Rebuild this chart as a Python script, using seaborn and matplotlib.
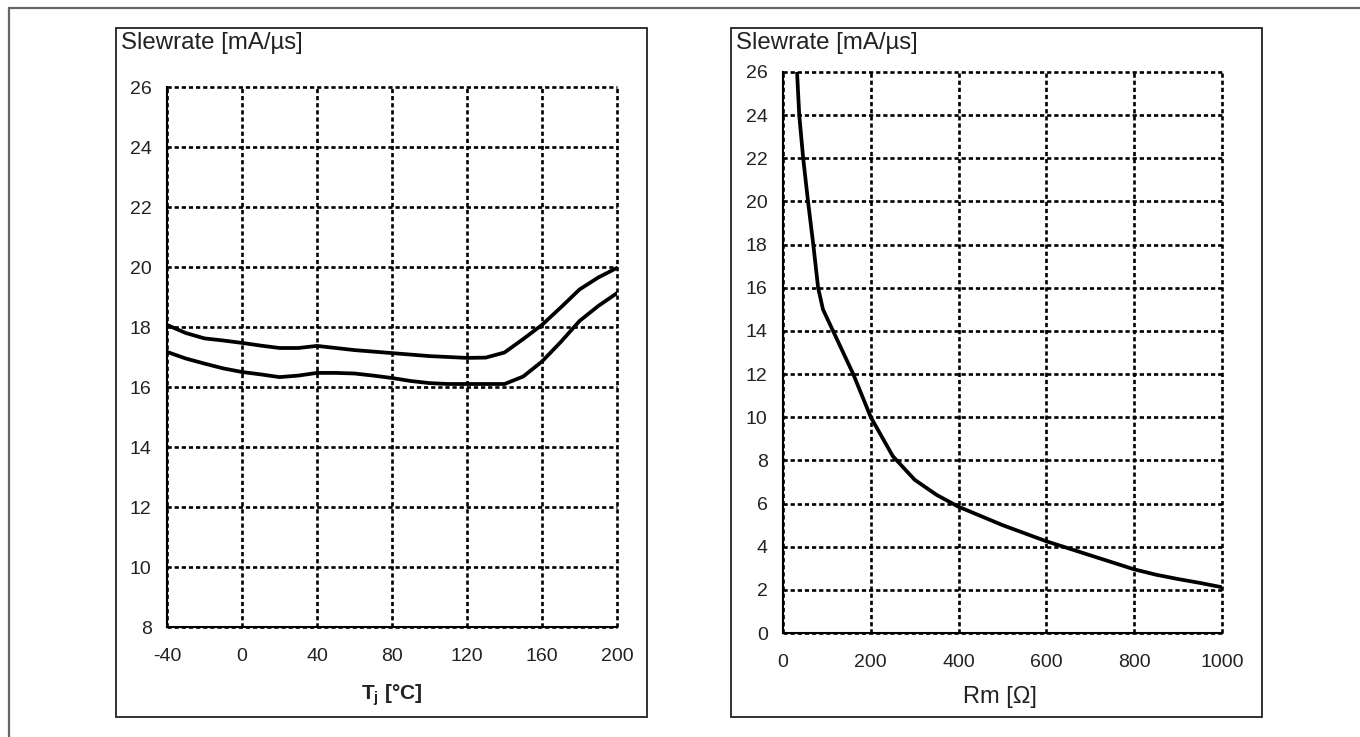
import matplotlib
matplotlib.use("Agg")
import matplotlib.pyplot as plt
import seaborn as sns
import pandas as pd
from matplotlib.lines import Line2D
from matplotlib.patches import Rectangle

# ---------------- data ----------------
tj = [-40, -30, -20, -10, 0, 10, 20, 30, 40, 50, 60, 70, 80, 90, 100, 110, 120, 130,
      140, 150, 160, 170, 180, 190, 200]
slew_upper = [18.07, 17.8, 17.62, 17.55, 17.47, 17.38, 17.3, 17.3, 17.37, 17.3, 17.23, 17.18,
              17.13, 17.08, 17.03, 17.0, 16.97, 16.98, 17.15, 17.6, 18.07, 18.65, 19.25, 19.65, 19.97]
slew_lower = [17.17, 16.95, 16.78, 16.62, 16.5, 16.42, 16.33, 16.38, 16.47, 16.47, 16.45, 16.38,
              16.3, 16.2, 16.13, 16.1, 16.1, 16.1, 16.1, 16.35, 16.85, 17.5, 18.2, 18.7, 19.13]

rm = [32, 37, 46, 57, 69, 80, 91, 114, 137, 160, 200, 250, 300, 350, 400, 500, 600,
      700, 800, 850, 900, 950, 1000]
slew_rm = [26, 24, 22, 20, 18, 16, 15, 14, 13, 12, 10, 8.2, 7.1, 6.4, 5.85, 5.0, 4.25,
           3.6, 2.95, 2.7, 2.5, 2.32, 2.12]

left_xticks = [-40, 0, 40, 80, 120, 160, 200]
left_yticks = [8, 10, 12, 14, 16, 18, 20, 22, 24, 26]
right_xticks = [0, 200, 400, 600, 800, 1000]
right_yticks = [0, 2, 4, 6, 8, 10, 12, 14, 16, 18, 20, 22, 24, 26]

y_title = "Slewrate [mA/µs]"
left_xlabel = r"T$_\mathregular{j}$ [°C]"
right_xlabel = "Rm [Ω]"

# ---------------- style ----------------
sns.set_theme(style="white")
plt.rcParams["font.family"] = ["Liberation Sans", "DejaVu Sans"]
plt.rcParams["mathtext.fontset"] = "custom"
plt.rcParams["mathtext.rm"] = "Liberation Sans"
plt.rcParams["mathtext.bf"] = "Liberation Sans:bold"
plt.rcParams["axes.unicode_minus"] = False

W, H = 1360, 737
fig = plt.figure(figsize=(W / 100, H / 100), dpi=100)
fig.patch.set_facecolor("white")


def fx(px):
    return px / W


def fy(py):
    return 1 - py / H


# outer frame (only left and top visible)
fig.add_artist(Line2D([fx(9), fx(9)], [fy(8), 0], color="#666666", lw=1.6,
                      transform=fig.transFigure))
fig.add_artist(Line2D([fx(9), 1], [fy(8), fy(8)], color="#666666", lw=1.6,
                      transform=fig.transFigure))

# panel boxes
for x0, x1 in [(116, 647), (731, 1262)]:
    fig.add_artist(Rectangle((fx(x0), fy(717)), fx(x1 - x0), (717 - 28) / H,
                             fill=False, edgecolor="#222222", lw=1.3,
                             transform=fig.transFigure))

ax1 = fig.add_axes([fx(167), fy(627), fx(617 - 167), (627 - 87) / H])
ax2 = fig.add_axes([fx(783), fy(633), fx(1222 - 783), (633 - 72) / H])

df_left = pd.DataFrame({"Tj": tj + tj,
                        "slew": slew_upper + slew_lower,
                        "curve": ["upper"] * len(tj) + ["lower"] * len(tj)})
df_right = pd.DataFrame({"Rm": rm, "slew": slew_rm})

sns.lineplot(data=df_left, x="Tj", y="slew", units="curve", estimator=None,
             color="black", lw=2.7, ax=ax1, sort=False, zorder=5)
sns.lineplot(data=df_right, x="Rm", y="slew", color="black", lw=2.7, ax=ax2,
             sort=False, zorder=5)

grid_kw = dict(color="black", lw=1.9, linestyle=(0, (1.6, 1.1)))

for ax, xt, yt, xl, yl in [(ax1, left_xticks, left_yticks, (-40, 200), (8, 26)),
                           (ax2, right_xticks, right_yticks, (0, 1000), (0, 26))]:
    ax.set_xlim(*xl)
    ax.set_ylim(*yl)
    ax.set_xticks(xt)
    ax.set_yticks(yt)
    ax.set_xlabel("")
    ax.set_ylabel("")
    ax.set_facecolor("white")
    ax.grid(True, **grid_kw)
    ax.set_axisbelow(True)
    for gl in ax.get_xgridlines() + ax.get_ygridlines():
        gl.set_clip_on(False)
    for s in ["top", "right"]:
        ax.spines[s].set_visible(False)
    for s in ["left", "bottom"]:
        ax.spines[s].set_color("black")
        ax.spines[s].set_linewidth(1.5)
        ax.spines[s].set_zorder(6)
    ax.tick_params(axis="both", direction="out", length=5, width=1.3,
                   color="black", labelcolor="#222222", labelsize=14)
    ax.tick_params(axis="x", pad=10)
    ax.tick_params(axis="y", pad=6)
    if ax.get_legend():
        ax.get_legend().remove()

# titles
fig.text(fx(121), fy(43), y_title, ha="left", va="center", fontsize=17.3, color="#222222")
fig.text(fx(736), fy(43), y_title, ha="left", va="center", fontsize=17.3, color="#222222")

# x labels
fig.text(fx(392), fy(695), left_xlabel, ha="center", va="center", fontsize=15,
         fontweight="bold", color="#222222")
fig.text(fx(1000), fy(697), right_xlabel, ha="center", va="center", fontsize=17,
         color="#222222")

fig.savefig("out.png", dpi=100, facecolor="white")
